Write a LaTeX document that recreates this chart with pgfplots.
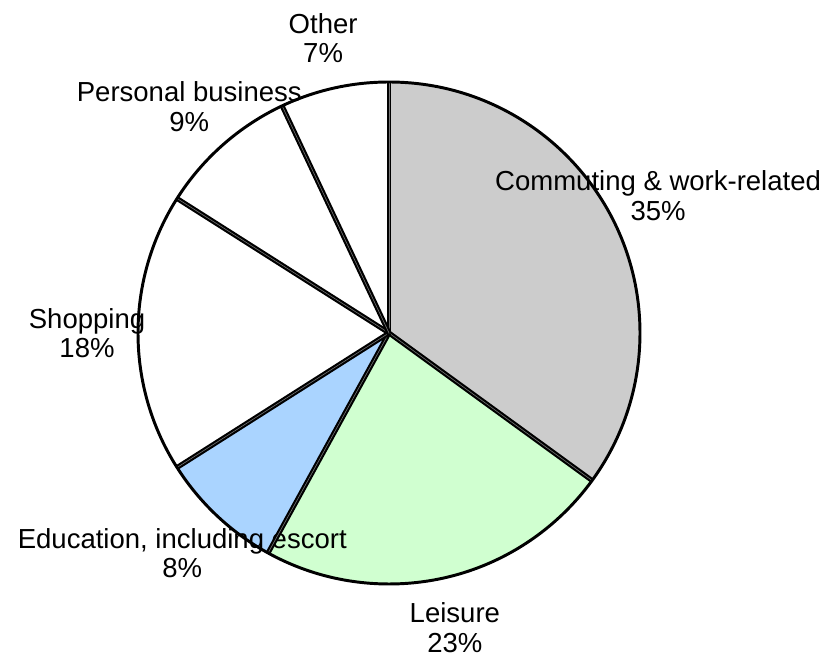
\documentclass[border=0pt]{standalone}
\usepackage{pgfplots}
\pgfplotsset{compat=1.18}
\usepackage{pgfplotstable}
\usepackage{fontspec}
\setmainfont{Liberation Sans}

\definecolor{slice0}{RGB}{204,204,204}
\definecolor{slice1}{RGB}{208,255,208}
\definecolor{slice2}{RGB}{170,212,255}
\definecolor{slice3}{RGB}{255,255,255}
\definecolor{slice4}{RGB}{255,255,255}
\definecolor{slice5}{RGB}{255,255,255}

% trip purpose shares, clockwise from 12 o'clock
\pgfplotstableread[col sep=semicolon]{
label;share
Commuting \& work-related;35
Leisure;23
Education, including escort;8
Shopping;18
Personal business;9
Other;7
}\trips

\tikzset{lab/.style={font=\fontsize{11.2}{12}\selectfont, align=center, anchor=center, inner sep=0pt}}

\begin{document}
\begin{tikzpicture}
\begin{axis}[
    hide axis,
    scale only axis,
    width=12cm,
    height=9.3825cm,
    xmin=0, xmax=839,
    ymin=0, ymax=656,
    y dir=reverse,
    clip=false,
]
\path (axis cs:0,0) rectangle (axis cs:839,656);
\def\cx{389}\def\cy{333}\def\R{102.14pt}

% sectors
\def\cum{0}
\pgfplotsforeachungrouped \i in {0,...,5}{%
  \pgfplotstablegetelem{\i}{share}\of\trips
  \let\val\pgfplotsretval
  \pgfmathsetmacro\angA{90-3.6*\cum}
  \pgfmathsetmacro\cum{\cum+\val}
  \pgfmathsetmacro\angB{90-3.6*\cum}
  \edef\temp{\noexpand\fill[slice\i] (axis cs:\cx,\cy) -- ++(\angA:\R)
    arc[start angle=\angA, end angle=\angB, radius=\R] -- cycle;}
  \temp
}

% labels
\def\cum{0}
\pgfplotsforeachungrouped \i in {0,...,5}{%
  \pgfplotstablegetelem{\i}{share}\of\trips
  \let\val\pgfplotsretval
  \pgfplotstablegetelem{\i}{label}\of\trips
  \let\lab\pgfplotsretval
  \pgfmathsetmacro\mid{90-3.6*(\cum+\val/2)}
  \pgfmathsetmacro\cum{\cum+\val}
  \pgfmathsetmacro\lx{\cx+302*cos(\mid)}
  \pgfmathsetmacro\ly{\cy-302*sin(\mid)}
  \edef\temp{\noexpand\node[lab] at (axis cs:\lx,\ly)
    {\unexpanded\expandafter{\lab}\noexpand\\\val\noexpand\%};}
  \temp
}

% separators
\def\cum{0}
\pgfplotsforeachungrouped \i in {0,...,5}{%
  \pgfplotstablegetelem{\i}{share}\of\trips
  \let\val\pgfplotsretval
  \pgfmathsetmacro\angA{90-3.6*\cum}
  \pgfmathsetmacro\cum{\cum+\val}
  \edef\temp{\noexpand\draw[line width=2pt] (axis cs:\cx,\cy) -- ++(\angA:\R);
    \noexpand\draw[line width=0.25pt, black!55] (axis cs:\cx,\cy) -- ++(\angA:\R);}
  \temp
}
\draw[line width=1.2pt] (axis cs:\cx,\cy) circle[radius=\R];
\end{axis}
\end{tikzpicture}
\end{document}
